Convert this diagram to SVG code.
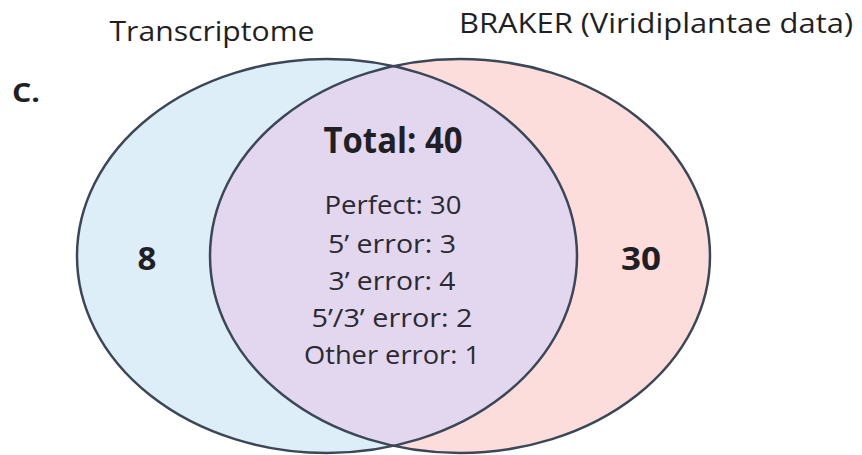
<svg xmlns="http://www.w3.org/2000/svg" width="862" height="455" viewBox="0 0 862 455">
  <style>
    text { font-family: "Open Sans", "Liberation Sans", sans-serif; fill: #1f1f24; }
    .title { font-size: 27px; }
    .bold { font-weight: bold; }
    .line { font-size: 25px; fill: #2a2a30; }
    .set { stroke: #3b4757; stroke-width: 2.5; }
  </style>
  <defs>
    <clipPath id="clip-left">
      <ellipse cx="327" cy="256" rx="250" ry="197"/>
    </clipPath>
  </defs>

  <rect width="862" height="455" fill="#ffffff"/>

  <!-- set labels -->
  <text class="title" x="212" y="41" text-anchor="middle" textLength="205" lengthAdjust="spacingAndGlyphs">Transcriptome</text>
  <text class="title" x="656" y="33" text-anchor="middle" textLength="394" lengthAdjust="spacingAndGlyphs">BRAKER (Viridiplantae data)</text>
  <text class="bold" x="12" y="102" font-size="27" textLength="28" lengthAdjust="spacingAndGlyphs">C.</text>

  <!-- Transcriptome set -->
  <g id="set-transcriptome">
    <ellipse cx="327" cy="256" rx="250" ry="197" fill="#deeef8"/>
  </g>

  <!-- BRAKER set -->
  <g id="set-braker">
    <ellipse cx="460" cy="256" rx="250" ry="197" fill="#fddcdc"/>
  </g>

  <!-- shared region -->
  <g id="overlap">
    <ellipse cx="460" cy="256" rx="250" ry="197" fill="#e3d6ef" clip-path="url(#clip-left)"/>
  </g>

  <!-- outlines -->
  <g id="outlines" fill="none">
    <ellipse class="set" cx="327" cy="256" rx="250" ry="197"/>
    <ellipse class="set" cx="460" cy="256" rx="250" ry="197"/>
  </g>

  <!-- counts -->
  <g id="count-transcriptome">
    <text class="bold" x="147" y="270" font-size="33" text-anchor="middle">8</text>
  </g>
  <g id="count-braker">
    <text class="bold" x="641" y="270" font-size="33" text-anchor="middle" textLength="40" lengthAdjust="spacingAndGlyphs">30</text>
  </g>
  <g id="count-shared">
    <text class="bold" x="393" y="153" font-size="35" text-anchor="middle" textLength="139" lengthAdjust="spacingAndGlyphs">Total: 40</text>
    <text class="line" x="393" y="214" text-anchor="middle" textLength="137" lengthAdjust="spacingAndGlyphs">Perfect: 30</text>
    <text class="line" x="392" y="253" text-anchor="middle" textLength="128" lengthAdjust="spacingAndGlyphs">5’ error: 3</text>
    <text class="line" x="392" y="290" text-anchor="middle" textLength="127" lengthAdjust="spacingAndGlyphs">3’ error: 4</text>
    <text class="line" x="392" y="327" text-anchor="middle" textLength="161" lengthAdjust="spacingAndGlyphs">5’/3’ error: 2</text>
    <text class="line" x="392" y="364" text-anchor="middle" textLength="176" lengthAdjust="spacingAndGlyphs">Other error: 1</text>
  </g>
</svg>
